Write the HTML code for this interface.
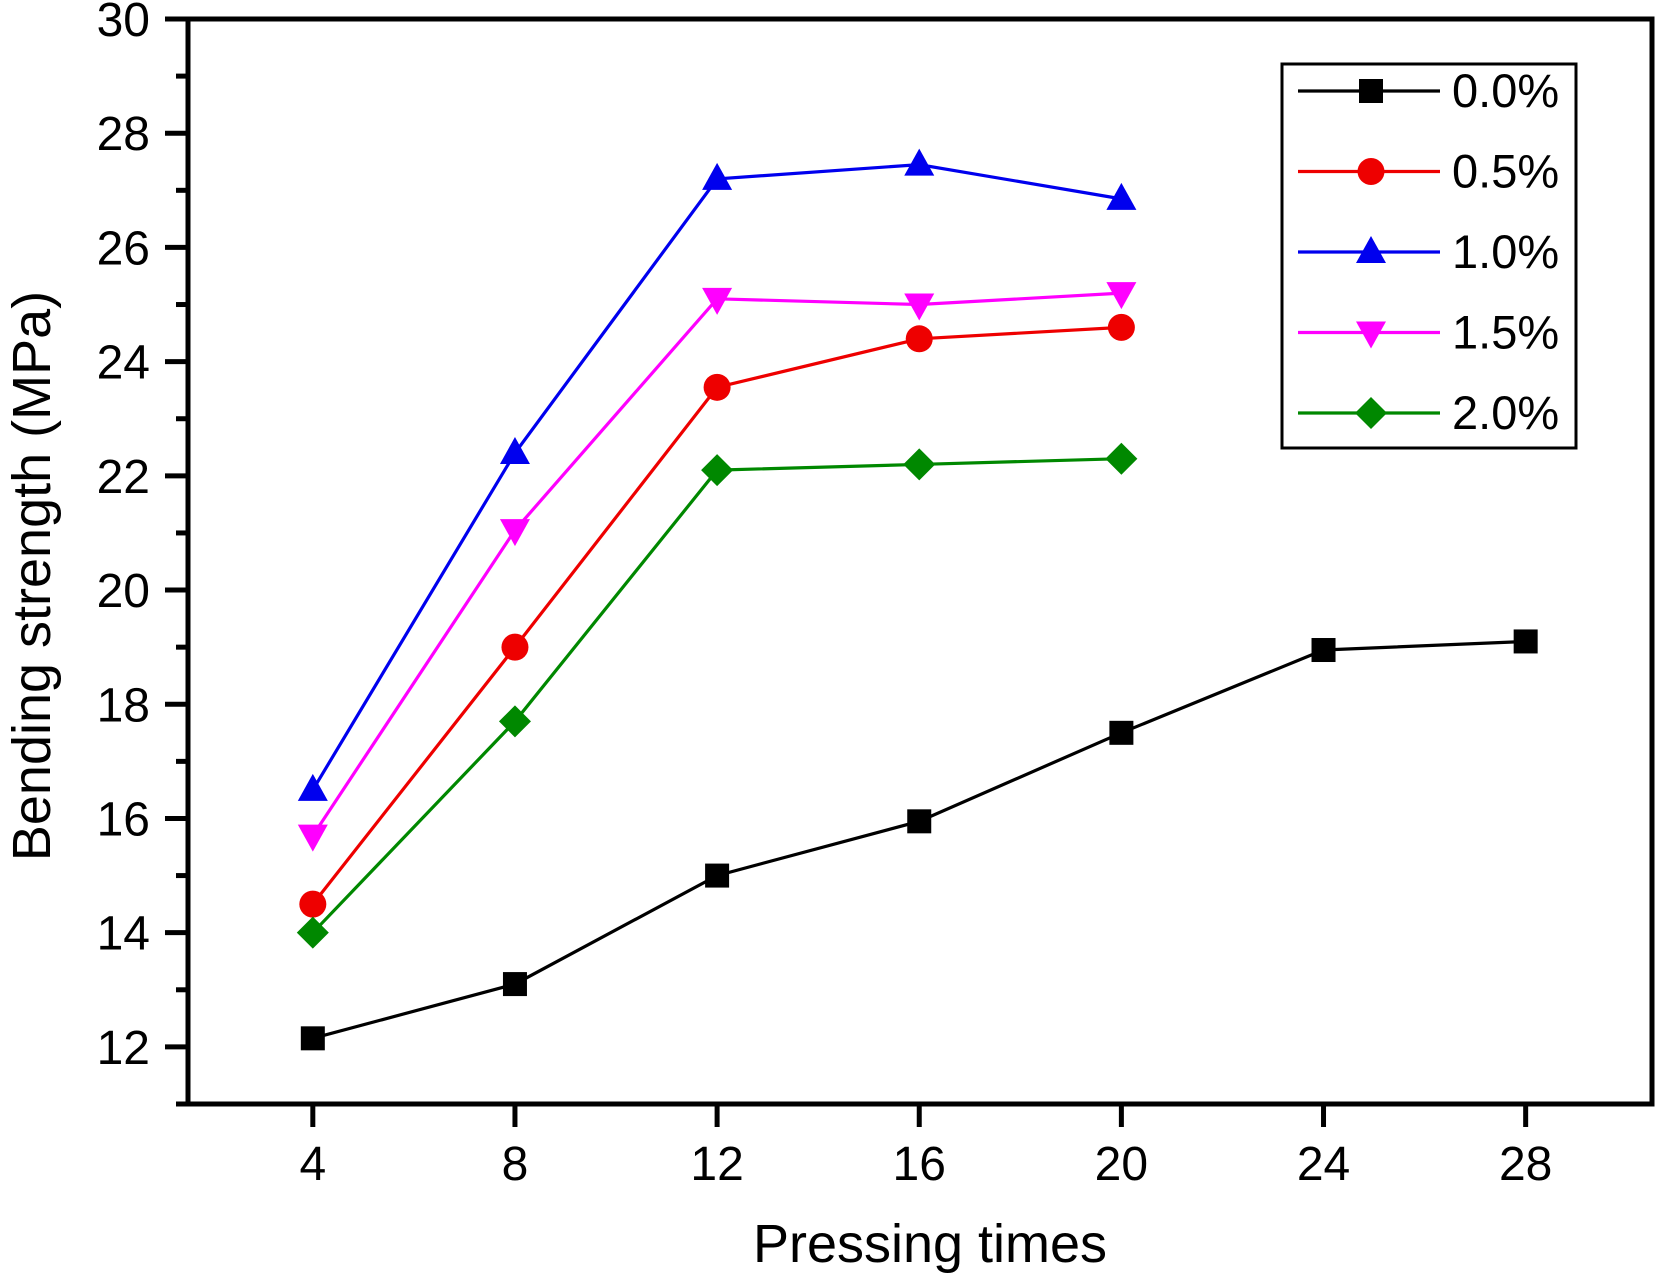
<!DOCTYPE html>
<html><head><meta charset="utf-8"><style>
body{margin:0;background:#fff}
svg{display:block;font-family:"Liberation Sans",Arial,sans-serif}
</style></head><body>
<svg id="chart" width="1657" height="1274" viewBox="0 0 1657 1274" xmlns="http://www.w3.org/2000/svg"></svg>
<script>
const categories=[4,8,12,16,20,24,28];
const xTicks=[4,8,12,16,20,24,28];
const yTicks=[12,14,16,18,20,22,24,26,28,30];
const s00=[12.15,13.1,15.0,15.95,17.5,18.95,19.1];
const s05=[14.5,19.0,23.55,24.4,24.6];
const s10=[16.5,22.4,27.2,27.45,26.85];
const s15=[15.7,21.05,25.1,25.0,25.2];
const s20=[14.0,17.7,22.1,22.2,22.3];
const seriesNames=["0.0%","0.5%","1.0%","1.5%","2.0%"];

const L=188,R=1652,T=19,B=1104;
const xMin=1.53,xMax=30.5,yMin=11,yMax=30;
const X=v=>L+(v-xMin)/(xMax-xMin)*(R-L);
const Y=v=>B-(v-yMin)/(yMax-yMin)*(B-T);
const NS="http://www.w3.org/2000/svg";
const svg=document.getElementById('chart');
function mk(tag,attrs,parent){const e=document.createElementNS(NS,tag);for(const k in attrs)e.setAttribute(k,attrs[k]);(parent||svg).appendChild(e);return e;}

const frame=mk('rect',{x:L,y:T,width:R-L,height:B-T,fill:'none',stroke:'#000','stroke-width':5});



yTicks.forEach(v=>{
  const t=mk('line',{x1:L-23,x2:L,y1:Y(v),y2:Y(v),stroke:'#000','stroke-width':5});
  
  
  const lb=mk('text',{x:L-38,y:Y(v)+17,'text-anchor':'end','font-size':48});
  lb.textContent=v;
  
  
  if(v<30){const m=mk('line',{x1:L-12,x2:L,y1:Y(v+1),y2:Y(v+1),stroke:'#000','stroke-width':5});
  
  }
});
{const m=mk('line',{x1:L-12,x2:L,y1:Y(11),y2:Y(11),stroke:'#000','stroke-width':5});

}
xTicks.forEach(v=>{
  const t=mk('line',{x1:X(v),x2:X(v),y1:B,y2:B+23,stroke:'#000','stroke-width':5});
  
  
  const lb=mk('text',{x:X(v),y:B+76,'text-anchor':'middle','font-size':48});
  lb.textContent=v;
  
  
});
const xt=mk('text',{x:930,y:1262,'text-anchor':'middle','font-size':54});
xt.textContent='Pressing times';


const yt=mk('text',{x:0,y:0,'text-anchor':'middle','font-size':54,transform:'translate(50,576) rotate(-90)'});
yt.textContent='Bending strength (MPa)';



function marker(type,cx,cy,color,parent){
  let e;
  if(type==='square')e=mk('rect',{x:cx-12,y:cy-12,width:24,height:24,fill:color},parent);
  else if(type==='circle')e=mk('circle',{cx:cx,cy:cy,r:13.5,fill:color},parent);
  else if(type==='up')e=mk('polygon',{points:`${cx},${cy-16} ${cx-15},${cy+11} ${cx+15},${cy+11}`,fill:color},parent);
  else if(type==='down')e=mk('polygon',{points:`${cx},${cy+16} ${cx-15},${cy-11} ${cx+15},${cy-11}`,fill:color},parent);
  else e=mk('polygon',{points:`${cx},${cy-16} ${cx+16},${cy} ${cx},${cy+16} ${cx-16},${cy}`,fill:color},parent);
  return e;
}
const series=[[s00,'#000','square'],[s05,'#e00','circle'],[s10,'#00e','up'],[s15,'#f0f','down'],[s20,'#080','diamond']];
series.forEach((s,i)=>{
  const g=mk('g',{});
  
  
  const pts=s[0].map((v,j)=>X(categories[j])+','+Y(v)).join(' ');
  const pl=mk('polyline',{points:pts,fill:'none',stroke:s[1],'stroke-width':3.2},g);
  
  
  s[0].forEach((v,j)=>{
    const m=marker(s[2],X(categories[j]),Y(v),s[1],g);
    
    
  });
});
const lg=mk('g',{});


const lbx=mk('rect',{x:1282,y:64,width:294,height:384,fill:'#fff',stroke:'#000','stroke-width':3},lg);


series.forEach((s,i)=>{
  const y=91+i*80.5;
  const ln=mk('line',{x1:1298,x2:1440,y1:y,y2:y,stroke:s[1],'stroke-width':3.2},lg);
  
  
  const m=marker(s[2],1371,y,s[1],lg);
  
  
  const t=mk('text',{x:1452,y:y+16,'font-size':47},lg);
  t.textContent=seriesNames[i];
  
  
});
</script>
</body></html>
